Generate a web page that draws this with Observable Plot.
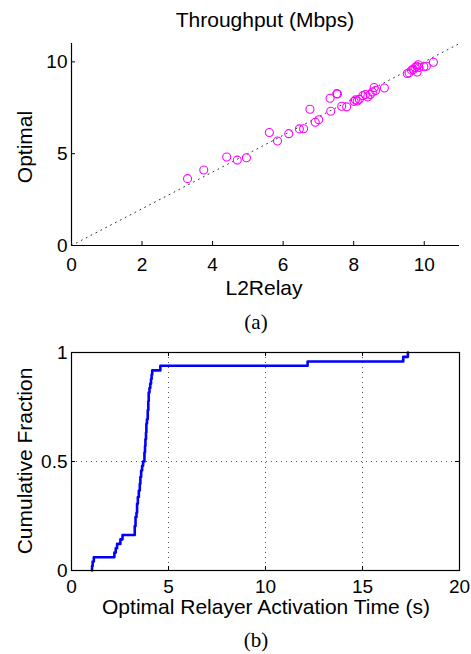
<!DOCTYPE html>
<html>
<head>
<meta charset="utf-8">
<script src="https://cdn.jsdelivr.net/npm/d3@7"></script>
<script src="https://cdn.jsdelivr.net/npm/@observablehq/plot@0.6"></script>
<style>
  html, body { margin: 0; padding: 0; background: #fff; }
  #wrap { position: relative; width: 471px; height: 654px; overflow: hidden; font-family: "Liberation Sans", Arial, sans-serif; color: #000; }
  .lbl { position: absolute; font-size: 21px; line-height: 21px; white-space: nowrap; transform: translateX(-50%); }
  .serif { font-family: "Liberation Serif", "Times New Roman", serif; }
  .rot { position: absolute; font-size: 21px; line-height: 21px; white-space: nowrap; transform: translate(-50%, -50%) rotate(-90deg); }
  .panel { position: absolute; left: 0; }
</style>
</head>
<body>
<div id="wrap">
  <div class="lbl" style="left:265px; top:9px;">Throughput (Mbps)</div>
  <div class="rot" style="left:24px; top:147px;">Optimal</div>
  <div class="lbl" style="left:264px; top:277px;">L2Relay</div>
  <div class="lbl serif" style="left:256px; top:312px;">(a)</div>
  <div class="rot" style="left:24px; top:461px;">Cumulative Fraction</div>
  <div class="lbl" style="left:266px; top:596px;">Optimal Relayer Activation Time (s)</div>
  <div class="lbl serif" style="left:256px; top:630px;">(b)</div>
  <div class="panel" id="pa" style="top:0px;"></div>
  <div class="panel" id="pb" style="top:320px;"></div>
</div>
<script>
// ---- Panel (a): throughput scatter ----
const l2relay = [3.29, 3.75, 4.40, 4.70, 4.96, 5.61, 5.84, 6.16, 6.46, 6.58, 6.76, 6.91, 7.01, 7.33, 7.35, 7.52, 7.54, 7.66, 7.80, 8.01, 8.05, 8.10, 8.16, 8.26, 8.33, 8.40, 8.47, 8.53, 8.58, 8.62, 8.87, 9.52, 9.57, 9.64, 9.69, 9.74, 9.79, 9.80, 9.83, 9.85, 9.99, 10.06, 10.26];
const optimal = [3.64, 4.11, 4.82, 4.65, 4.78, 6.15, 5.69, 6.09, 6.35, 6.36, 7.42, 6.71, 6.85, 8.02, 7.31, 8.27, 8.25, 7.58, 7.55, 7.85, 7.93, 7.87, 7.96, 8.16, 8.22, 8.09, 8.22, 8.36, 8.60, 8.44, 8.58, 9.37, 9.40, 9.55, 9.58, 9.69, 9.76, 9.45, 9.84, 9.69, 9.73, 9.76, 9.98];
const diagonal = [0, 11];
const xTicksA = [0, 2, 4, 6, 8, 10];
const yTicksA = [0, 5, 10];

// ---- Panel (b): CDF of activation time ----
const cdfTime = [1.06, 1.06, 1.09, 1.15, 2.21, 2.28, 2.35, 2.52, 2.63, 3.26, 3.30, 3.35, 3.38, 3.42, 3.47, 3.52, 3.55, 3.59, 3.64, 3.69, 3.76, 3.79, 3.81, 3.84, 3.86, 3.89, 3.93, 3.96, 3.98, 4.02, 4.06, 4.10, 4.13, 4.16, 4.58, 12.17, 17.10, 17.34];
const cdfFrac = [0, 0.020, 0.041, 0.061, 0.082, 0.102, 0.122, 0.143, 0.163, 0.204, 0.245, 0.265, 0.306, 0.337, 0.367, 0.398, 0.429, 0.459, 0.480, 0.500, 0.541, 0.571, 0.602, 0.633, 0.673, 0.694, 0.735, 0.776, 0.816, 0.837, 0.857, 0.878, 0.898, 0.918, 0.939, 0.959, 0.980, 1.000];
const xTicksB = [0, 5, 10, 15, 20];
const yTicksB = [0, 0.5, 1];
const gridXB = [5, 10, 15];
const gridYB = [0.5];

const W = 471;
const points = l2relay.map((x, i) => ({x, y: optimal[i]}));
const cdf = cdfTime.map((t, i) => ({t, f: cdfFrac[i]}));

// Panel (a)
const A = {h: 300, mt: 43, mb: 55, ml: 71, mr: 12};
const fwA = W - A.ml - A.mr, fhA = A.h - A.mt - A.mb;
const plotA = Plot.plot({
  width: W, height: A.h,
  marginTop: A.mt, marginBottom: A.mb, marginLeft: A.ml, marginRight: A.mr,
  style: {fontFamily: "Liberation Sans, Arial, sans-serif", fontSize: "19px", color: "#000", background: "transparent"},
  x: {domain: [0, 11], ticks: xTicksA, tickSize: 0, tickPadding: 12, label: null},
  y: {domain: [0, 11], ticks: yTicksA, tickSize: 0, tickPadding: 4, label: null},
  marks: [
    Plot.line(diagonal, {x: d => d, y: d => d, stroke: "#333", strokeWidth: 1, strokeDasharray: "1,4.5"}),
    Plot.dot(points, {x: "x", y: "y", r: 4, stroke: "#ff00ff", strokeWidth: 1.1, fill: "none"}),
    Plot.tickX(xTicksA, {x: d => d, insetTop: fhA - 4, stroke: "#000"}),
    Plot.tickY(yTicksA, {y: d => d, insetRight: fwA - 4, stroke: "#000"}),
    Plot.ruleX([0], {stroke: "#000", strokeWidth: 1.2}),
    Plot.ruleY([0], {stroke: "#000", strokeWidth: 1.2})
  ]
});
document.getElementById("pa").appendChild(plotA);

// Panel (b)
const B = {h: 300, mt: 32, mb: 50, ml: 71, mr: 12};
const fwB = W - B.ml - B.mr, fhB = B.h - B.mt - B.mb;
const plotB = Plot.plot({
  width: W, height: B.h,
  marginTop: B.mt, marginBottom: B.mb, marginLeft: B.ml, marginRight: B.mr,
  style: {fontFamily: "Liberation Sans, Arial, sans-serif", fontSize: "19px", color: "#000", background: "transparent"},
  x: {domain: [0, 20], ticks: xTicksB, tickSize: 0, tickPadding: 9, label: null},
  y: {domain: [0, 1], ticks: yTicksB, tickSize: 0, tickPadding: 4, label: null, tickFormat: d => String(d)},
  marks: [
    Plot.ruleX(gridXB, {x: d => d, stroke: "#555", strokeWidth: 1, strokeDasharray: "1,4"}),
    Plot.ruleY(gridYB, {y: d => d, stroke: "#555", strokeWidth: 1, strokeDasharray: "1,4"}),
    Plot.tickX(xTicksB, {x: d => d, insetTop: fhB - 4, stroke: "#000"}),
    Plot.tickX(xTicksB, {x: d => d, insetBottom: fhB - 4, stroke: "#000"}),
    Plot.tickY(yTicksB, {y: d => d, insetRight: fwB - 4, stroke: "#000"}),
    Plot.tickY(yTicksB, {y: d => d, insetLeft: fwB - 4, stroke: "#000"}),
    Plot.line(cdf, {x: "t", y: "f", curve: "step-after", stroke: "#0000ff", strokeWidth: 2.6}),
    Plot.frame({stroke: "#000", strokeWidth: 1.2})
  ]
});
document.getElementById("pb").appendChild(plotB);
</script>
</body>
</html>
